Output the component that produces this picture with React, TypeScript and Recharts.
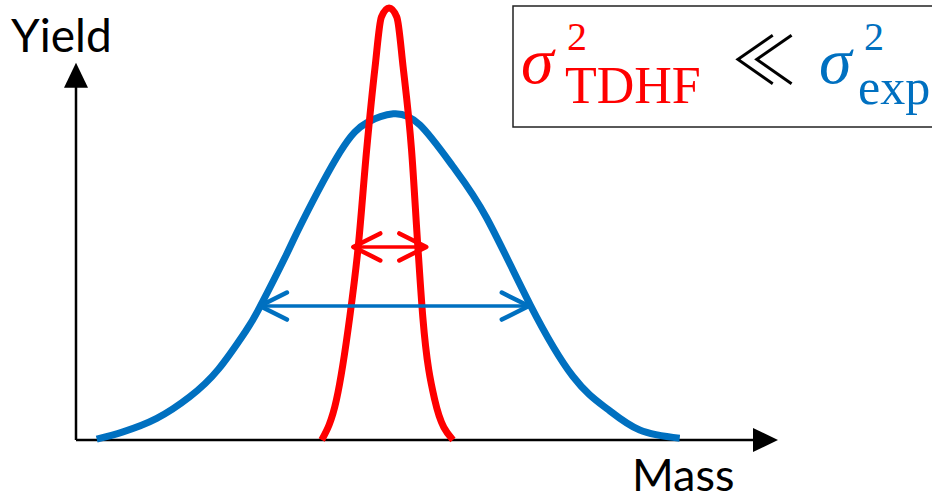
import React from 'react';
import { LineChart, Line, XAxis, YAxis, ReferenceLine } from 'recharts';

// Mass runs 0..100 along the drawn axis, Yield 0..100 (TDHF peak = 100)
const expMass = [2.95, 6.7, 11.5, 16.2, 20.3, 24.1, 26.2, 30.0, 32.2, 37.6, 41.4, 45.2, 49.0, 53.7, 58.5, 64.7, 70.8, 75.6, 80.3, 86.0];
const expYield = [0.2, 1.9, 5.0, 10.0, 16.4, 25.0, 30.8, 43.0, 50.4, 66.6, 73.4, 75.5, 72.9, 63.3, 51.4, 31.3, 14.7, 7.3, 2.3, 0.4];

const tdhfMass = [35.0, 37.1, 39.0, 40.2, 41.4, 42.6, 43.5, 44.6, 45.7, 46.6, 47.8, 48.7, 49.4, 51.1, 53.7];
const tdhfYield = [0, 9.3, 28.5, 44.7, 67.1, 86.3, 97.9, 100, 97.9, 86.3, 67.1, 44.7, 28.5, 9.3, 0];

// width markers: [left mass, right mass, yield level]
const expWidth = [26.2, 64.5, 31.0];
const tdhfWidth = [39.5, 49.9, 44.7];

const axisEnds = { mass: 100, yield: 87.3 };

const BLUE = '#0070C0';
const RED = '#FF0000';

const expData = expMass.map((m, i) => ({ mass: m, y: expYield[i] }));
const tdhfData = tdhfMass.map((m, i) => ({ mass: m, y: tdhfYield[i] }));

// line with an arrowhead at one (filled) or both (open chevrons) ends
const Arrow = (props: any) => {
  const { x1, y1, x2, y2, color, width, filled } = props;
  const dx = x2 - x1;
  const dy = y2 - y1;
  const len = Math.sqrt(dx * dx + dy * dy) || 1;
  const ux = dx / len;
  const uy = dy / len;
  const nx = -uy;
  const ny = ux;

  if (filled) {
    const hl = 25;
    const hw = 12;
    const bx = x2 - ux * hl;
    const by = y2 - uy * hl;
    return (
      <g>
        <line x1={x1} y1={y1} x2={bx + ux * 2} y2={by + uy * 2} stroke={color} strokeWidth={width} />
        <polygon
          points={`${x2},${y2} ${bx + nx * hw},${by + ny * hw} ${bx - nx * hw},${by - ny * hw}`}
          fill={color}
        />
      </g>
    );
  }

  const al = 27;
  const aw = 13.5;
  const arms = (px: number, py: number, sx: number, sy: number) =>
    `M${px - sx * al + nx * aw},${py - sy * al + ny * aw} L${px},${py} L${px - sx * al - nx * aw},${py - sy * al - ny * aw}`;
  return (
    <g>
      <line x1={x1} y1={y1} x2={x2} y2={y2} stroke={color} strokeWidth={width} />
      <path
        d={`${arms(x2, y2, ux, uy)} ${arms(x1, y1, -ux, -uy)}`}
        fill="none"
        stroke={color}
        strokeWidth={width + 1}
        strokeLinecap="round"
        strokeLinejoin="round"
      />
    </g>
  );
};

export default function App() {
  return (
    <div style={{ position: 'absolute', left: 0, top: 0, width: 932, height: 502, overflow: 'hidden', background: '#fff' }}>
      <LineChart width={932} height={502} margin={{ top: 8, right: 154, bottom: 62, left: 76 }}>
        <XAxis type="number" dataKey="mass" domain={[0, 100]} hide allowDataOverflow />
        <YAxis type="number" dataKey="y" domain={[0, 100]} hide />
        <ReferenceLine
          segment={[{ x: 0, y: 0 }, { x: axisEnds.mass, y: 0 }]}
          ifOverflow="visible"
          shape={(p: any) => <Arrow {...p} color="#000" width={2.5} filled />}
        />
        <ReferenceLine
          segment={[{ x: 0, y: 0 }, { x: 0, y: axisEnds.yield }]}
          ifOverflow="visible"
          shape={(p: any) => <Arrow {...p} color="#000" width={2.5} filled />}
        />
        <Line
          data={expData}
          dataKey="y"
          type="natural"
          stroke={BLUE}
          strokeWidth={7}
          dot={false}
          activeDot={false}
          isAnimationActive={false}
        />
        <Line
          data={tdhfData}
          dataKey="y"
          type="monotone"
          stroke={RED}
          strokeWidth={7}
          dot={false}
          activeDot={false}
          isAnimationActive={false}
        />
        <ReferenceLine
          segment={[{ x: expWidth[0], y: expWidth[2] }, { x: expWidth[1], y: expWidth[2] }]}
          ifOverflow="visible"
          shape={(p: any) => <Arrow {...p} color={BLUE} width={3.5} />}
        />
        <ReferenceLine
          segment={[{ x: tdhfWidth[0], y: tdhfWidth[2] }, { x: tdhfWidth[1], y: tdhfWidth[2] }]}
          ifOverflow="visible"
          shape={(p: any) => <Arrow {...p} color={RED} width={3.5} />}
        />
      </LineChart>

      {/* axis titles and the sigma comparison box */}
      <svg width={932} height={502} style={{ position: 'absolute', left: 0, top: 0, pointerEvents: 'none' }}>
        <text x={11} y={52} fontFamily="Lato" fontSize={46} fill="#000">Yield</text>
        <text x={632} y={491} fontFamily="Lato" fontSize={45} fill="#000">Mass</text>

        <rect x={513} y={6} width={440} height={121} fill="#fff" stroke="#222" strokeWidth={1.5} />
        <g fontFamily="Liberation Serif">
          <text x={521} y={83} fontSize={66} fontStyle="italic" fill={RED}>σ</text>
          <text x={567} y={50} fontSize={40} fill={RED}>2</text>
          <text x={565} y={103} fontSize={52} fill={RED}>TDHF</text>
          <text x={731} y={84} fontSize={66} fontFamily="Noto Sans CJK JP" fontWeight={300} fill="#000">≪</text>
          <text x={819} y={83} fontSize={66} fontStyle="italic" fill={BLUE}>σ</text>
          <text x={864} y={50} fontSize={40} fill={BLUE}>2</text>
          <text x={858} y={104} fontSize={50} fill={BLUE}>exp</text>
        </g>
      </svg>
    </div>
  );
}
